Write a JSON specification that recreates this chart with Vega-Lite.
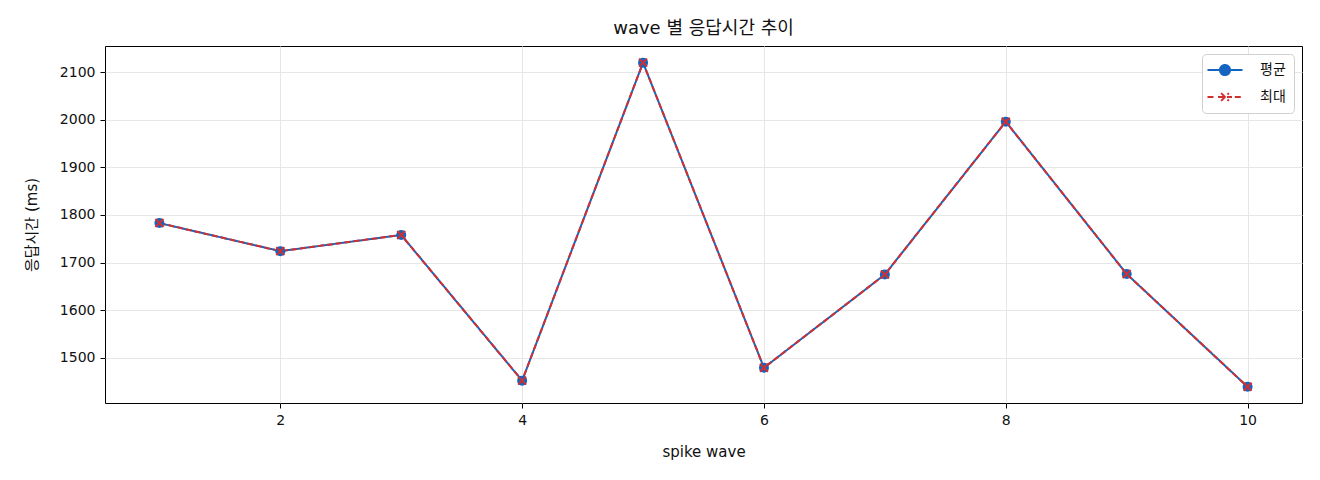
{
  "$schema": "https://vega.github.io/schema/vega-lite/v6.json",
  "autosize": {"type": "none"},
  "width": 1197,
  "height": 357,
  "padding": {"left": 105, "top": 46, "right": 18, "bottom": 77},
  "background": "white",
  "config": {
    "font": "DejaVu Sans, Noto Sans CJK KR",
    "view": {"stroke": "black", "strokeWidth": 1},
    "axis": {
      "labelFont": "DejaVu Sans, Noto Sans CJK KR",
      "titleFont": "DejaVu Sans, Noto Sans CJK KR",
      "labelFontSize": 14,
      "titleFontSize": 15,
      "titleFontWeight": "normal",
      "labelColor": "#111",
      "titleColor": "#111",
      "tickColor": "black",
      "tickSize": 5,
      "domain": false,
      "gridColor": "#e6e6e6",
      "gridWidth": 1
    }
  },
  "title": {
    "text": "wave 별 응답시간 추이",
    "font": "DejaVu Sans, Noto Sans CJK KR",
    "fontSize": 18,
    "fontWeight": "normal",
    "color": "#111",
    "offset": 8
  },
  "data": {
    "values": [
      {"wave": 1, "ms": 1783, "series": "평균"},
      {"wave": 2, "ms": 1724, "series": "평균"},
      {"wave": 3, "ms": 1758, "series": "평균"},
      {"wave": 4, "ms": 1452, "series": "평균"},
      {"wave": 5, "ms": 2120, "series": "평균"},
      {"wave": 6, "ms": 1479, "series": "평균"},
      {"wave": 7, "ms": 1675, "series": "평균"},
      {"wave": 8, "ms": 1996, "series": "평균"},
      {"wave": 9, "ms": 1676, "series": "평균"},
      {"wave": 10, "ms": 1439, "series": "평균"},
      {"wave": 1, "ms": 1783, "series": "최대"},
      {"wave": 2, "ms": 1724, "series": "최대"},
      {"wave": 3, "ms": 1758, "series": "최대"},
      {"wave": 4, "ms": 1452, "series": "최대"},
      {"wave": 5, "ms": 2120, "series": "최대"},
      {"wave": 6, "ms": 1479, "series": "최대"},
      {"wave": 7, "ms": 1675, "series": "최대"},
      {"wave": 8, "ms": 1996, "series": "최대"},
      {"wave": 9, "ms": 1676, "series": "최대"},
      {"wave": 10, "ms": 1439, "series": "최대"}
    ]
  },
  "encoding": {
    "x": {
      "field": "wave",
      "type": "quantitative",
      "title": "spike wave",
      "scale": {"domain": [0.55, 10.45], "nice": false, "zero": false},
      "axis": {"values": [2, 4, 6, 8, 10], "format": "d", "titlePadding": 17, "labelPadding": 5}
    },
    "y": {
      "field": "ms",
      "type": "quantitative",
      "title": "응답시간 (ms)",
      "scale": {"domain": [1405, 2155], "nice": false, "zero": false},
      "axis": {"values": [1500, 1600, 1700, 1800, 1900, 2000, 2100], "format": "d", "titlePadding": 20, "labelPadding": 5}
    }
  },
  "layer": [
    {
      "mark": {"type": "line", "strokeWidth": 2},
      "encoding": {
        "stroke": {
          "field": "series",
          "type": "nominal",
          "scale": {"domain": ["평균", "최대"], "range": ["#1565C0", "#D32F2F"]},
          "legend": {
            "title": null,
            "orient": "top-right",
            "offset": 8,
            "padding": 8,
            "cornerRadius": 4,
            "strokeColor": "#d0d0d0",
            "fillColor": "white",
            "labelFont": "Noto Sans CJK KR",
            "labelFontSize": 14,
            "labelColor": "#111",
            "symbolSize": 196,
            "symbolStrokeWidth": 2,
            "rowPadding": 9,
            "labelOffset": 34,
            "encode": {
              "symbols": {
                "update": {
                  "shape": {"signal": "datum.value === '평균' ? 'M-2.5,0L2.5,0M-0.72,0A0.72,0.72 0 1,0 0.72,0A0.72,0.72 0 1,0 -0.72,0Z' : 'M-2.5,0L-1.4,0M-1,0L1,0M1.4,0L2.5,0M-0.55,-0.55L0.55,0.55M-0.55,0.55L0.55,-0.55'"},
                  "fill": {"signal": "datum.value === '평균' ? '#1565C0' : 'transparent'"},
                  "strokeDash": {"value": [1, 0]},
                  "x": {"value": 15}
                }
              }
            }
          }
        },
        "strokeDash": {
          "field": "series",
          "type": "nominal",
          "scale": {"domain": ["평균", "최대"], "range": [[1, 0], [6, 3]]},
          "legend": null
        }
      }
    },
    {
      "transform": [{"filter": "datum.series === '평균'"}],
      "mark": {"type": "point", "shape": "circle", "filled": true, "size": 100, "color": "#1565C0", "opacity": 1}
    },
    {
      "transform": [{"filter": "datum.series === '최대'"}],
      "mark": {"type": "point", "shape": "M-0.8,-0.8L0.8,0.8M-0.8,0.8L0.8,-0.8", "filled": false, "size": 100, "color": "#D32F2F", "strokeWidth": 2, "opacity": 1}
    }
  ]
}
